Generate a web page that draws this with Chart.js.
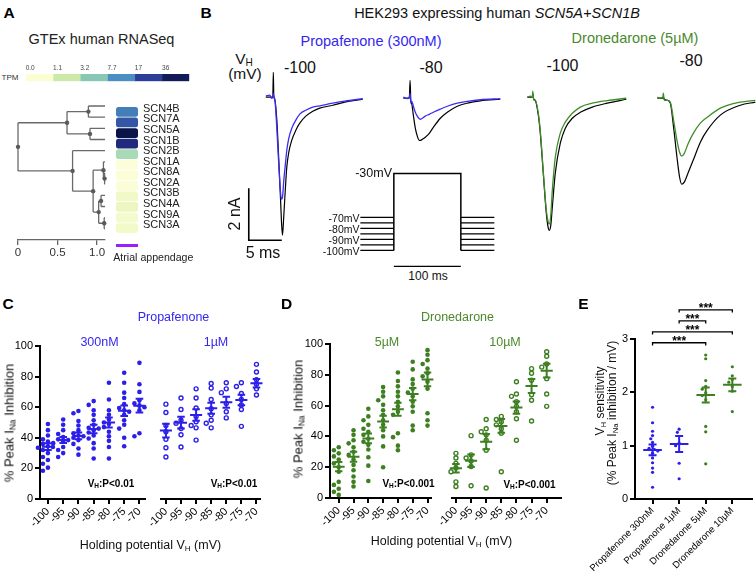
<!DOCTYPE html>
<html><head><meta charset="utf-8">
<script src="https://cdn.jsdelivr.net/npm/chart.js@4.4.1/dist/chart.umd.min.js"></script>
<style>
html,body{margin:0;padding:0;background:#fff;}
#fig{position:relative;width:756px;height:574px;overflow:hidden;font-family:"Liberation Sans",Arial,Helvetica,sans-serif;color:#111;}
canvas{position:absolute;}
.t{position:absolute;white-space:nowrap;line-height:1;}
sub{font-size:0.65em;vertical-align:-0.22em;line-height:0;}
</style></head><body><div id="fig"></div>
<script>
// ===================== DATA =====================
// Panel A
const genes = ['SCN4B','SCN7A','SCN5A','SCN1B','SCN2B','SCN1A','SCN8A','SCN2A','SCN3B','SCN4A','SCN9A','SCN3A'];
const geneTPM = [10, 17, 80, 36, 2.6, 0.05, 0.08, 0.1, 0.45, 0.7, 0.35, 0.4];
const tpmTickLabels = ['0.0','1.1','3.2','7.7','17','36'];
const tpmBandColors = ['#fbfdd2','#cce9aa','#88c7b5','#4a8ec3','#2c3e98','#121b57'];
const tpmColorStops = [0, 1.1, 3.2, 7.7, 17, 36, 80];
const tpmStopColors = ['#ffffdb','#e3f3b5','#97d3b8','#4b92c3','#3555a5','#1f2a7f','#0a1449'];
// dendrogram merges: [childA, childB, height]; nodes named n<index>
const dendroMerges = [
  ['SCN4B','SCN7A',0.89], ['SCN5A','SCN1B',0.91], ['n0','n1',0.62],
  ['SCN8A','SCN2A',1.095], ['SCN1A','n3',1.08], ['SCN3B','SCN4A',1.05],
  ['SCN9A','SCN3A',1.09], ['n5','n6',1.02], ['n4','n7',0.95],
  ['SCN2B','n8',0.69], ['n2','n9',0.0]
];
const dendroLeafHeight = 1.1;
const dendroTicks = [0, 0.5, 1.0];
const dendroTickLabels = ['0','0.5','1.0'];

// Panel B: current traces (time ms, current nA)
const t1 = [0,0.6,0.9,1.06,1.14,1.21,1.36,1.67,1.97,2.27,2.4,2.53,2.73,2.95,3.18,3.48,3.94,4.55,5.15,6.06,7.12,8.18,10.15,11.97,14.7];
const ctrl1 = [0,0,0,0,0.96,0.08,-0.08,-0.88,-2.42,-4.15,-4.9,-5.31,-4.54,-3.58,-2.69,-2.12,-1.65,-1.27,-1.0,-0.73,-0.54,-0.42,-0.31,-0.19,-0.08];
const prop1 = [0.04,0.08,-0.04,0,0.15,0,-0.08,-1.19,-2.62,-3.77,-3.92,-3.85,-3.19,-2.62,-2.04,-1.58,-1.19,-0.88,-0.65,-0.5,-0.38,-0.33,-0.23,-0.15,-0.06];
const t2 = [0,0.61,0.91,1.03,1.14,1.29,1.52,1.82,2.12,2.42,2.65,2.88,3.33,3.94,4.55,5.61,6.67,8.18,9.7,11.67,14.7];
const ctrl2 = [0,0,0,0.69,-0.08,-0.23,-0.65,-1.15,-1.46,-1.62,-1.62,-1.58,-1.5,-1.35,-1.12,-0.77,-0.54,-0.31,-0.19,-0.1,-0.04];
const prop2 = [0.04,-0.02,0.04,0.19,-0.19,-0.12,-0.31,-0.54,-0.69,-0.79,-0.81,-0.77,-0.69,-0.62,-0.54,-0.42,-0.31,-0.19,-0.12,-0.06,-0.02];
const t3 = [0,0.45,0.76,0.83,0.98,1.21,1.67,1.97,2.42,2.88,3.18,3.33,3.56,3.79,4.24,5.0,5.76,6.82,8.03,9.85,12.12,15.0];
const ctrl3 = [0,0,0,0.15,-0.08,-0.12,-0.69,-1.38,-2.92,-4.46,-5.04,-5.12,-4.92,-4.23,-2.92,-1.77,-1.19,-0.81,-0.58,-0.38,-0.23,-0.08];
const dron3 = [0,0.04,0,0.23,-0.12,-0.12,-0.62,-1.3,-2.85,-4.35,-4.81,-4.88,-4.54,-3.58,-2.31,-1.38,-0.96,-0.62,-0.38,-0.23,-0.13,-0.04];
const t4 = [0,0.45,0.83,0.91,1.06,1.52,1.97,2.47,2.98,3.38,3.71,4.09,4.7,5.45,6.52,7.58,9.55,12.58,14.85];
const ctrl4 = [0,0,0,0.04,-0.04,-0.08,-0.19,-1.12,-2.27,-3.04,-3.31,-3.23,-2.85,-2.38,-1.69,-1.23,-0.65,-0.27,-0.15];
const dron4 = [0.04,0,0.04,0.19,-0.08,-0.08,-0.15,-0.85,-1.62,-2.08,-2.23,-2.12,-1.73,-1.35,-0.96,-0.73,-0.38,-0.15,-0.08];
// voltage protocol
const holdingLevels = [-70,-75,-80,-85,-90,-95,-100];
const holdingLabels = [-70,-80,-90,-100];
const testLevel = -30;
const prePulse = [-50, 0];   // ms
const testPulse = [0, 100];  // ms
const postPulse = [100, 150];// ms

// Panels C/D
const hpLevels = [-100,-95,-90,-85,-80,-75,-70];
const yTicksCD = [0,20,40,60,80,100];
const prop300 = [
  [49,45,41.5,39,37.5,36,34.5,34,33.5,32,30,27.5,25.5,23,20.5,18.5],
  [52,48.5,45,42.5,40.5,39,38.5,37.5,36.5,34,32,30,27.5],
  [57.5,56,51,48,45,43,41.5,41,40,38.5,36,33,29],
  [64,61.5,58,55,51.5,48.5,46.5,46,45,43.5,41.5,39.5,36.5,33,26.5],
  [76,65,58,55,52,50,49,47,44,41,38,34,26.5],
  [82.5,76,69.5,66,62,59.5,58,57,55,51.5,48.5,46,40,34.5],
  [89,75,70,64.5,62.5,61,60,58,43,41]
];
const prop300Mean = [34.2,38.6,41.2,45.8,50,57.7,61];
const prop300Sem = [2.2,2.0,2.2,2.8,3.3,3.4,4.5];
const prop1u = [
  [62,56.5,48,44,39,33.5,27.5],
  [66,58.5,51.5,49.5,46,42,34],
  [72,66,59.5,54,50.5,48,46.5,38.5],
  [75.5,72.5,65,59,55,51.5,49.5,46.5],
  [76,72,69.5,62.5,57,53],
  [76,73.5,69,65,61.5,58.5,47.5],
  [88,83,78,75,72,68]
];
const prop1uMean = [44.7,49.9,54.9,59.3,63.2,64.7,75.6];
const prop1uSem = [4.5,3.8,3.8,3.6,3.6,3.5,2.8];
const dron5 = [
  [33,31,29,27,25,22.5,20,17,10.5,8.5,6,4,2],
  [44,41,37.5,35.5,33,30,28,25,21.5,18,14,10.5,7.5],
  [58,53,50.5,47.5,45,43,41,38.5,36.5,34.5,31.5,26.5,21,11],
  [72,69,66,63.5,60.5,57,54,50.5,47.5,44,40,33.5,20],
  [81.5,76,72.5,69,66,62.5,59.5,56,54,42,39.5,34,31],
  [88.5,83.5,77,74,71,68.5,66,62.5,59.5,56,47,44],
  [96,93,89.5,87,84,81,79,75.5,71,55,50.5,47]
];
const dron5Mean = [20.3,26.8,38.7,49.6,57.6,67.5,77];
const dron5Sem = [3.0,3.2,3.2,3.8,4.2,4.0,4.5];
const dron10 = [
  [29,26,22.5,19.5,17,10.5,7.5],
  [40.5,28,26,24,20.5,8],
  [51,45,43,41,37.5,31,6.5],
  [53,51,49.5,47.5,45,42,17],
  [75.5,67.5,66,62.5,59.5,56,51.5,37.5],
  [84,81,76.5,67,63.5,50],
  [95,92,87,85,77.5,67.5,59.5]
];
const dron10Mean = [19.3,24.2,36.6,46.8,58.7,72.7,82.7];
const dron10Sem = [2.8,4.0,5.0,4.5,4.0,4.5,4.5];

// Panel E
const eCategories = ['Propafenone 300nM','Propafenone 1μM','Dronedarone 5μM','Dronedarone 10μM'];
const eValues = [
  [1.72,1.43,1.27,1.19,1.13,1.06,0.99,0.95,0.93,0.9,0.86,0.77,0.68,0.58,0.5,0.22],
  [1.31,1.25,1.05,1.0,0.67,0.38],
  [2.7,2.63,2.22,2.11,2.06,1.99,1.94,1.86,1.36,1.26,0.66],
  [2.48,2.31,2.24,2.19,2.11,2.02,1.64]
];
const eMean = [0.92,1.03,1.95,2.14];
const eSem = [0.1,0.15,0.14,0.12];
const eTicks = [0,1,2,3];
const eComparisons = [[0,2,'***'],[0,3,'***'],[1,2,'***'],[1,3,'***']];

// ===================== SETUP =====================
const fig = document.getElementById('fig');
const FONT = '"Liberation Sans", Arial, Helvetica, sans-serif';
Chart.defaults.font.family = FONT;
Chart.defaults.font.size = 11;
Chart.defaults.color = '#000';
Chart.defaults.animation = false;
Chart.defaults.responsive = false;
Chart.defaults.events = [];
Chart.defaults.plugins.legend.display = false;
Chart.defaults.plugins.tooltip.enabled = false;

const BLUE = '#2c1fe8', BLUE_T = '#3527ef', BLUE_TR = '#3b2cf5';
const GREEN = '#3e7f22', GREEN_T = '#4a8a2c', GREEN_TR = '#3f8d2a';

function mkCanvas(l, t, w, h) {
  const c = document.createElement('canvas');
  c.width = w; c.height = h;
  c.style.left = l + 'px'; c.style.top = t + 'px';
  c.style.width = w + 'px'; c.style.height = h + 'px';
  fig.appendChild(c); return c;
}
function txt(html, x, y, o = {}) {
  const d = document.createElement('div');
  d.className = 't'; d.innerHTML = html;
  d.style.left = x + 'px'; d.style.top = y + 'px';
  d.style.fontSize = (o.size || 12) + 'px';
  if (o.bold) d.style.fontWeight = 'bold';
  if (o.italic) d.style.fontStyle = 'italic';
  d.style.color = o.color || '#111';
  let tr = o.anchor === 'left' ? 'translate(0,-50%)' : o.anchor === 'right' ? 'translate(-100%,-50%)' : 'translate(-50%,-50%)';
  if (o.rot) tr += ' rotate(' + o.rot + 'deg)';
  d.style.transform = tr;
  fig.appendChild(d); return d;
}
function hexToRgb(h){ h=h.replace('#',''); return [parseInt(h.substr(0,2),16),parseInt(h.substr(2,2),16),parseInt(h.substr(4,2),16)]; }
function tpmColor(v) {
  const lv = Math.log1p(v);
  const ls = tpmColorStops.map(Math.log1p);
  let i = 0; while (i < ls.length - 2 && lv > ls[i + 1]) i++;
  const f = Math.max(0, Math.min(1, (lv - ls[i]) / (ls[i + 1] - ls[i])));
  const a = hexToRgb(tpmStopColors[i]), b = hexToRgb(tpmStopColors[i + 1]);
  return 'rgb(' + a.map((c, k) => Math.round(c + (b[k] - c) * f)).join(',') + ')';
}
function swarm(groups, centers, pxX, pxY, diam) {
  const out = [];
  groups.forEach((vals, gi) => {
    const placed = [];
    vals.forEach(v => {
      const py = v * pxY; let off = 0;
      for (let k = 0; k < 60; k++) {
        const c = k === 0 ? 0 : (k % 2 ? -1 : 1) * Math.ceil(k / 2) * diam * 0.5;
        if (placed.every(p => Math.hypot(p.x - c, p.y - py) >= diam * 0.92)) { off = c; break; }
      }
      placed.push({ x: off, y: py });
      out.push({ x: centers[gi] + off / pxX, y: v });
    });
  });
  return out;
}
function meanSem(centers, means, sems, hm, hc) {
  const d = [];
  centers.forEach((x, i) => {
    const m = means[i], s = sems[i];
    d.push({x:x-hm,y:m},{x:x+hm,y:m},{x:x,y:null},
           {x:x,y:m-s},{x:x,y:m+s},{x:x,y:null},
           {x:x-hc,y:m+s},{x:x+hc,y:m+s},{x:x,y:null},
           {x:x-hc,y:m-s},{x:x+hc,y:m-s},{x:x,y:null});
  });
  return d;
}
const fixTicks = arr => function (s) { s.ticks = arr.map(v => ({ value: v })); };

// ===================== PANEL A =====================
txt('A', 9, 12.5, { size: 15.5, bold: true, color: '#000' });
txt('GTEx human RNASeq', 101.5, 39, { size: 14.5, color: '#222' });
txt('TPM', 10, 77.5, { size: 8, color: '#333' });

// colour bar
new Chart(mkCanvas(20, 62, 175, 22), {
  type: 'bar',
  data: { labels: ['TPM'], datasets: tpmBandColors.map(c => ({ data: [1], backgroundColor: c, barPercentage: 1, categoryPercentage: 1 })) },
  options: {
    indexAxis: 'y',
    layout: { padding: { left: 5.7, right: 5.7, top: 0, bottom: 2.7 } },
    scales: {
      x: { stacked: true, position: 'top', min: 0, max: 6,
        grid: { display: false, drawTicks: false }, border: { display: false },
        ticks: { font: { size: 6.5 }, color: '#444', padding: 1.5, align: 'start', callback: (v, i) => tpmTickLabels[i] },
        afterBuildTicks: fixTicks([0,1,2,3,4,5]), afterFit(s) { s.height = 12; } },
      y: { stacked: true, display: false }
    }
  }
});

// dendrogram
(function () {
  const pos = {};
  genes.forEach((g, i) => pos[g] = { x: dendroLeafHeight, y: i });
  const segs = [], nodes = [];
  dendroMerges.forEach(([a, b, h], k) => {
    const A = pos[a], B = pos[b], y = (A.y + B.y) / 2;
    segs.push({x:h,y:A.y},{x:h,y:B.y},{x:h,y:null},
              {x:h,y:A.y},{x:A.x,y:A.y},{x:h,y:null},
              {x:h,y:B.y},{x:B.x,y:B.y},{x:h,y:null});
    pos['n' + k] = { x: h, y: y };
    nodes.push({ x: h, y: y });
  });
  new Chart(mkCanvas(0, 95, 112, 167), {
    type: 'scatter',
    data: { datasets: [
      { data: nodes, pointRadius: 2.2, pointBackgroundColor: '#5a5a5a', pointBorderWidth: 0, clip: false },
      { data: segs, showLine: true, borderColor: '#6a6a6a', borderWidth: 1.3, pointRadius: 0, clip: false }
    ] },
    options: {
      layout: { padding: { left: 18, right: 7, top: 4.3, bottom: 0 } },
      scales: {
        x: { type: 'linear', min: 0, max: 1.1,
          afterBuildTicks: fixTicks(dendroTicks),
          ticks: { font: { size: 11.5 }, color: '#333', padding: 1, callback: (v, i) => dendroTickLabels[i] },
          grid: { drawOnChartArea: false, tickLength: 5, color: '#666', lineWidth: 1.3 },
          border: { color: '#666', width: 1.3 },
          afterFit(s) { s.height = 22; } },
        y: { display: false, reverse: true, min: -0.6, max: 12.0 }
      }
    }
  });
})();

// heatmap
new Chart(mkCanvas(110, 95, 90, 150), {
  type: 'bar',
  data: { labels: genes, datasets: [{ data: genes.map(() => 1), backgroundColor: geneTPM.map(tpmColor),
    barPercentage: 1, categoryPercentage: 0.92, borderRadius: 2.5, borderSkipped: false }] },
  options: {
    indexAxis: 'y',
    layout: { padding: { left: 6, top: 5, right: 0, bottom: 6.7 } },
    scales: {
      x: { display: false, min: 0, max: 1 },
      y: { position: 'right', grid: { display: false, drawTicks: false }, border: { display: false },
        ticks: { autoSkip: false, font: { size: 11 }, color: '#222', padding: 5, labelOffset: -3 },
        afterFit(s) { s.width = 62; } }
    }
  }
});
(function () {
  const d = document.createElement('div');
  d.style.cssText = 'position:absolute;left:116px;top:244px;width:22px;height:3.3px;background:#9b1ffa;';
  fig.appendChild(d);
})();
txt('Atrial appendage', 113.3, 257, { size: 10.6, anchor: 'left', color: '#222' });

// ===================== PANEL B =====================
txt('B', 206, 12.5, { size: 15.5, bold: true, color: '#000' });
txt('HEK293 expressing human <i>SCN5A+SCN1B</i>', 497, 13, { size: 14.5 });
txt('Propafenone (300nM)', 371, 40.5, { size: 14.5, color: BLUE_T });
txt('Dronedarone (5µM)', 635, 37.5, { size: 14.5, color: GREEN_T });
txt('V<sub>H</sub>', 244, 59, { size: 15.5 });
txt('(mV)', 245, 74, { size: 15.5 });
txt('-100', 300, 67.5, { size: 16 });
txt('-80', 431, 67.5, { size: 16 });
txt('-100', 562.5, 66, { size: 16 });
txt('-80', 691, 61, { size: 16 });
txt('2 nA', 235, 213.5, { size: 16, rot: -90 });
txt('5 ms', 263, 252.5, { size: 16 });
txt('100 ms', 428, 276, { size: 12 });

const PX_MS = 6.6, PX_NA = 26, TR_H = 177, TR_YMAX = 1.2;
function traceChart(edgeX, baseY, xMin, widthPx, times, ctrl, drug, color, extra) {
  const left = edgeX + xMin * PX_MS;
  const top = baseY - TR_YMAX * PX_NA;
  const ds = [
    { data: times.map((t, i) => ({ x: t, y: drug[i] })), showLine: true, borderColor: color, borderWidth: 1.3, pointRadius: 0, cubicInterpolationMode: 'monotone', clip: false },
    { data: times.map((t, i) => ({ x: t, y: ctrl[i] })), showLine: true, borderColor: '#000', borderWidth: 1.2, pointRadius: 0, cubicInterpolationMode: 'monotone', clip: false }
  ].concat(extra || []);
  return new Chart(mkCanvas(left, top, widthPx, TR_H), {
    type: 'scatter', data: { datasets: ds },
    options: { layout: { padding: 0 },
      scales: { x: { type: 'linear', display: false, min: xMin, max: xMin + widthPx / PX_MS },
                y: { display: false, min: TR_YMAX - TR_H / PX_NA, max: TR_YMAX } } }
  });
}
const scaleBar = { data: [{x:-2.58,y:-3.5},{x:-2.58,y:-5.5},{x:2.42,y:-5.5}], showLine: true, borderColor: '#000', borderWidth: 1.6, pointRadius: 0, clip: false };
traceChart(266, 97, -3.0, 120, t1, ctrl1, prop1, BLUE_TR, [scaleBar]);
traceChart(403, 98, -0.5, 104, t2, ctrl2, prop2, BLUE_TR);
traceChart(527, 97, -0.5, 104, t3, ctrl3, dron3, GREEN_TR);
traceChart(657, 98, -0.5, 104, t4, ctrl4, dron4, GREEN_TR);

// voltage protocol
(function () {
  const PX_T = 0.67, PX_V = 1.1, xMin = -52, w = 137, h = 102, yMax = -26;
  const left = 394 + xMin * PX_T, top = 217 - (yMax - holdingLevels[0]) * PX_V;
  const segs = [];
  holdingLevels.forEach(v => {
    segs.push({x:prePulse[0],y:v},{x:prePulse[1],y:v},{x:0,y:null},
              {x:postPulse[0],y:v},{x:postPulse[1],y:v},{x:0,y:null});
  });
  const minH = Math.min(...holdingLevels);
  const step = [{x:testPulse[0],y:minH},{x:testPulse[0],y:testLevel},{x:testPulse[1],y:testLevel},{x:testPulse[1],y:minH}];
  const yMin = yMax - h / PX_V;
  const barY = minH - 14.5;
  const timeBar = [{x:testPulse[0],y:barY},{x:testPulse[1],y:barY}];
  const ch = new Chart(mkCanvas(left, top, w, h), {
    type: 'scatter',
    data: { datasets: [
      { data: segs, showLine: true, borderColor: '#000', borderWidth: 1.4, pointRadius: 0, clip: false },
      { data: step, showLine: true, borderColor: '#000', borderWidth: 1.5, pointRadius: 0, clip: false },
      { data: timeBar, showLine: true, borderColor: '#000', borderWidth: 1.4, pointRadius: 0, clip: false }
    ] },
    options: { layout: { padding: 0 },
      scales: { x: { type: 'linear', display: false, min: xMin, max: xMin + w / PX_T },
                y: { display: false, min: yMin, max: yMax } } }
  });
  const xs = ch.scales.x, ys = ch.scales.y;
  holdingLabels.forEach(v => txt(v + 'mV', left + xs.getPixelForValue(prePulse[0]) - 1, top + ys.getPixelForValue(v) + 1, { size: 10.5, anchor: 'right' }));
  txt(testLevel + 'mV', left + xs.getPixelForValue(0) - 2, top + ys.getPixelForValue(testLevel), { size: 12.5, anchor: 'right' });
})();

// ===================== PANELS C / D =====================
function axisX(xMin, xMax, xH) {
  return { type: 'linear', min: xMin, max: xMax,
    afterBuildTicks: fixTicks(hpLevels),
    ticks: { autoSkip: false, minRotation: 45, maxRotation: 45, font: { size: 11 }, color: '#000', padding: 1, callback: v => String(v) },
    grid: { drawOnChartArea: false, tickLength: 5, color: '#000', lineWidth: 2 },
    border: { color: '#000', width: 2 },
    afterFit(s) { s.height = xH; } };
}
function axisY(showY, yW) {
  return { min: 0, max: 100, display: showY,
    afterBuildTicks: fixTicks(yTicksCD),
    ticks: { font: { size: 11 }, color: '#000', padding: 2 },
    grid: { drawOnChartArea: false, tickLength: 5, color: '#000', lineWidth: 2 },
    border: { color: '#000', width: 2 },
    afterFit(s) { s.width = yW; } };
}
function dotChart(c) {
  const pts = swarm(c.groups, hpLevels, 3.05, 1.535, 5);
  return new Chart(mkCanvas(c.left, c.top, c.w, c.h), {
    type: 'scatter',
    data: { datasets: [
      { data: meanSem(hpLevels, c.means, c.sems, 2.0, 1.25), showLine: true, borderColor: c.color, borderWidth: 2, pointRadius: 0, clip: false },
      { data: pts, pointRadius: c.open ? 2.0 : 2.3, pointBackgroundColor: c.open ? '#fff' : c.color,
        pointBorderColor: c.color, pointBorderWidth: c.open ? 1.4 : 0, clip: false }
    ] },
    options: {
      layout: { padding: c.pad },
      scales: { x: axisX(c.xMin, c.xMax, c.xH), y: axisY(c.showY, c.yW) }
    }
  });
}
// C
dotChart({ left: 0, top: 336, w: 150, h: 204, pad: { left: 0, top: 10, right: 4, bottom: 0 }, yW: 40, xH: 41,
  xMin: -102.6, xMax: -68.04, showY: true, groups: prop300, means: prop300Mean, sems: prop300Sem, color: BLUE, open: false });
dotChart({ left: 125, top: 336, w: 142, h: 204, pad: { left: 36, top: 10, right: 5, bottom: 0 }, yW: 0, xH: 41,
  xMin: -101.63, xMax: -68.7, showY: false, groups: prop1u, means: prop1uMean, sems: prop1uSem, color: BLUE, open: true });
// D
dotChart({ left: 280, top: 334, w: 158, h: 206, pad: { left: 0, top: 10, right: 4, bottom: 0 }, yW: 50, xH: 42,
  xMin: -102.95, xMax: -68.7, showY: true, groups: dron5, means: dron5Mean, sems: dron5Sem, color: GREEN, open: false });
dotChart({ left: 420, top: 334, w: 146, h: 206, pad: { left: 32, top: 10, right: 4, bottom: 0 }, yW: 0, xH: 42,
  xMin: -101.3, xMax: -65.4, showY: false, groups: dron10, means: dron10Mean, sems: dron10Sem, color: GREEN, open: true });

txt('C', 8, 304, { size: 15.5, bold: true, color: '#000' });
txt('Propafenone', 173.5, 317, { size: 12.5, color: BLUE_T });
txt('300nM', 99.5, 342, { size: 12.5, color: BLUE_T });
txt('1µM', 216, 342, { size: 12.5, color: BLUE_T });
txt('% Peak I<sub>Na</sub> Inhibition', 9, 423, { size: 13, rot: -90 });
txt('V<sub>H</sub>:P&lt;0.01', 111, 484, { size: 10, bold: true, color: '#000' });
txt('V<sub>H</sub>:P&lt;0.01', 234, 484, { size: 10, bold: true, color: '#000' });
txt('Holding potential V<sub>H</sub> (mV)', 150.5, 545, { size: 12.5 });

txt('D', 286.5, 304, { size: 15.5, bold: true, color: '#000' });
txt('Dronedarone', 457.5, 317, { size: 12.5, color: GREEN_T });
txt('5µM', 387, 342, { size: 12.5, color: GREEN_T });
txt('10µM', 505, 342, { size: 12.5, color: GREEN_T });
txt('% Peak I<sub>Na</sub> Inhibition', 298, 419, { size: 13, rot: -90 });
txt('V<sub>H</sub>:P&lt;0.001', 408.5, 483.5, { size: 10, bold: true, color: '#000' });
txt('V<sub>H</sub>:P&lt;0.001', 529.5, 485, { size: 10, bold: true, color: '#000' });
txt('Holding potential V<sub>H</sub> (mV)', 441.5, 541, { size: 12.5 });

// ===================== PANEL E =====================
(function () {
  const left = 556, top = 294, centers = eCategories.map((_, i) => i);
  const colors = [BLUE, BLUE, GREEN, GREEN];
  const ds = [];
  eValues.forEach((vals, g) => {
    ds.push({ data: meanSem([g], [eMean[g]], [eSem[g]], 0.35, 0.15), showLine: true, borderColor: colors[g], borderWidth: 2, pointRadius: 0, clip: false });
  });
  eValues.forEach((vals, g) => {
    ds.push({ data: swarm([vals], [g], 27.27, 53.33, 3.6), pointRadius: 1.6, pointBackgroundColor: colors[g], pointBorderWidth: 0, clip: false });
  });
  const brackets = [], levels = [];
  eComparisons.forEach(([a, b], k) => {
    const y = 2.93 + k * 0.205; levels.push(y);
    brackets.push({x:a,y:y-0.05},{x:a,y:y},{x:b,y:y},{x:b,y:y-0.05},{x:a,y:null});
  });
  ds.push({ data: brackets, showLine: true, borderColor: '#000', borderWidth: 1.3, pointRadius: 0, clip: false });
  const ch = new Chart(mkCanvas(left, top, 200, 280), {
    type: 'scatter', data: { datasets: ds },
    options: {
      layout: { padding: { left: 0, top: 45, right: 1, bottom: 0 } },
      scales: {
        x: { type: 'linear', min: -0.66, max: 3.74,
          afterBuildTicks: fixTicks(centers),
          ticks: { autoSkip: false, minRotation: 45, maxRotation: 45, font: { size: 9.5 }, color: '#000', padding: 1, callback: (v, i) => eCategories[i] },
          grid: { drawOnChartArea: false, tickLength: 5, color: '#000', lineWidth: 2 },
          border: { color: '#000', width: 2 },
          afterFit(s) { s.height = 75; } },
        y: { min: 0, max: 3,
          afterBuildTicks: fixTicks(eTicks),
          ticks: { font: { size: 11 }, color: '#000', padding: 2 },
          grid: { drawOnChartArea: false, tickLength: 5, color: '#000', lineWidth: 2 },
          border: { color: '#000', width: 2 },
          afterFit(s) { s.width = 79; } }
      }
    }
  });
  eComparisons.forEach(([a, b, lab], k) => {
    txt(lab, left + ch.scales.x.getPixelForValue((a + b) / 2), top + ch.scales.y.getPixelForValue(levels[k]) - 1.5, { size: 12, bold: true, color: '#000' });
  });
})();
txt('E', 583.5, 304, { size: 15.5, bold: true, color: '#000' });
txt('V<sub>H</sub> sensitivity', 599.5, 401, { size: 12, rot: -90 });
txt('(% Peak I<sub>Na</sub> inhibition / mV)', 612, 413, { size: 12, rot: -90 });
</script>
</body></html>
